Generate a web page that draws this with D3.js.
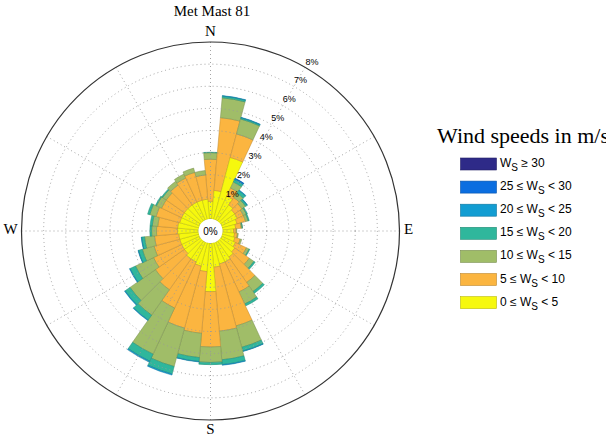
<!DOCTYPE html>
<html>
<head>
<meta charset="utf-8">
<script src="https://cdn.jsdelivr.net/npm/d3@7/dist/d3.min.js"></script>
<style>
  html, body { margin: 0; padding: 0; background: #fff; }
  svg { display: block; }
</style>
</head>
<body>
<svg id="chart" width="606" height="438"></svg>
<script>
// Wind direction sectors (degrees clockwise from north), 10° bins
const directions = [0,10,20,30,40,50,60,70,80,90,100,110,120,130,140,150,160,170,
                    180,190,200,210,220,230,240,250,260,270,280,290,300,310,320,330,340,350];

// Frequency (%) per direction for each wind speed class
const ws0to5   = [0.8,1.3,2.9,1.2,0.9,0.8,0.8,0.7,0.6,0.5,0.55,0.6,0.7,0.8,0.9,1.0,1.0,1.1,
                  2.2,1.3,1.1,1.0,1.0,0.9,0.9,0.9,0.9,0.95,0.95,0.9,0.9,0.9,0.9,0.9,0.9,0.9];
const ws5to10  = [1.9,3.3,1.1,0.4,0.4,0.4,0.3,0.4,0.25,0.12,0.13,0.25,0.55,0.8,1.4,1.5,2.9,2.9,
                  2.5,2.8,2.9,2.3,1.7,1.6,1.4,1.2,1.1,0.95,0.9,1.1,1.0,1.0,1.1,1.2,1.3,1.1];
const ws10to15 = [0.3,0.9,0.7,0.3,0.25,0.2,0.15,0.12,0.05,0.03,0.04,0.07,0.13,0.25,0.5,0.6,1.0,1.3,
                  0.7,1.1,1.8,2.3,1.4,1.4,0.9,0.55,0.45,0.22,0.25,0.3,0.25,0.2,0.2,0.2,0.2,0.2];
const ws15to20 = [0.02,0.08,0.06,0.12,0.14,0.08,0.05,0.05,0.01,0,0,0,0.04,0.07,0.1,0.1,0.18,0.22,
                  0.1,0.18,0.35,0.35,0.27,0.27,0.27,0.18,0.13,0.08,0.1,0.1,0.05,0.05,0,0,0,0];
const ws20to25 = [0,0.02,0.02,0.05,0.03,0.02,0,0,0,0,0,0,0,0,0,0,0.02,0.03,
                  0,0.02,0.05,0.05,0.03,0.03,0.03,0.02,0.02,0,0,0,0,0,0,0,0,0];
const ws25to30 = [0,0,0,0.02,0,0,0,0,0,0,0,0,0,0,0,0,0,0,
                  0,0,0,0,0,0,0,0,0,0,0,0,0,0,0,0,0,0];
const ws30up   = [0,0,0,0,0,0,0,0,0,0,0,0,0,0,0,0,0,0,
                  0,0,0,0,0,0,0,0,0,0,0,0,0,0,0,0,0,0];

// Speed classes, innermost first
const classLabels = [["0 \u2264 W","S"," < 5"],["5 \u2264 W","S"," < 10"],["10 \u2264 W","S"," < 15"],
                     ["15 \u2264 W","S"," < 20"],["20 \u2264 W","S"," < 25"],["25 \u2264 W","S"," < 30"],
                     ["W","S"," \u2265 30"]];
const classColors = ["#f6f80e","#fbb540","#a0bd68","#2fb79c","#129dd2","#0b6ee0","#2e2a88"];

// Radial rings (%)
const ringValues = [1,2,3,4,5,6,7,8];
const ringLabels = ["1%","2%","3%","4%","5%","6%","7%","8%"];
const compassLabels = ["N","E","S","W"];

const series = [ws0to5, ws5to10, ws10to15, ws15to20, ws20to25, ws25to30, ws30up];

const svg = d3.select("#chart");
const cx = 210.5, cy = 231;
const r = d3.scaleLinear().domain([0, 8]).range([12, 189]);
const toRad = d => d * Math.PI / 180;

const g = svg.append("g").attr("transform", `translate(${cx},${cy})`);

// stacked bars
const stack = directions.map((d, i) => {
  let acc = 0;
  return series.map((s, k) => {
    const lo = acc; acc += s[i];
    return { dir: d, k, lo, hi: acc };
  }).filter(e => e.hi > e.lo);
}).flat();

const arc = d3.arc()
  .innerRadius(e => r(e.lo))
  .outerRadius(e => r(e.hi))
  .startAngle(e => toRad(e.dir - 5))
  .endAngle(e => toRad(e.dir + 5));

g.append("g").selectAll("path").data(stack).join("path")
  .attr("d", arc)
  .attr("fill", e => classColors[e.k])
  .attr("stroke", e => d3.color(classColors[e.k]).darker(0.8))
  .attr("stroke-width", 0.5);

// grid: dotted rings and spokes drawn over the bars
const grid = g.append("g").attr("fill", "none").attr("stroke", "#9a9a9a")
  .attr("stroke-width", 0.9).attr("stroke-dasharray", "1,3");
grid.selectAll("circle").data(ringValues.slice(0, -1)).join("circle")
  .attr("r", d => r(d));
grid.selectAll("line").data(d3.range(0, 360, 30)).join("line")
  .attr("x1", d => r(0) * Math.sin(toRad(d))).attr("y1", d => -r(0) * Math.cos(toRad(d)))
  .attr("x2", d => r(8) * Math.sin(toRad(d))).attr("y2", d => -r(8) * Math.cos(toRad(d)));

// central hole and outer frame
g.append("circle").attr("r", r(0)).attr("fill", "#fff");
g.append("circle").attr("r", r(8)).attr("fill", "none").attr("stroke", "#333").attr("stroke-width", 1.2);

g.append("text").attr("x", 0).attr("y", 1).attr("text-anchor", "middle")
  .attr("dominant-baseline", "middle")
  .style("font", "10px 'Liberation Sans', Arial, sans-serif").text("0%");

// ring labels along the 31° bearing
g.append("g").selectAll("text").data(ringValues).join("text")
  .attr("x", (d, i) => (r(d) + 8) * Math.sin(toRad(31)))
  .attr("y", (d, i) => -(r(d) + 8) * Math.cos(toRad(31)))
  .attr("text-anchor", "middle").attr("dominant-baseline", "middle")
  .style("font", "9px 'Liberation Sans', Arial, sans-serif")
  .text((d, i) => ringLabels[i]);

// compass letters
const compassPos = [[0, -198], [198, 0], [0, 200], [-200, 0]];
g.append("g").selectAll("text").data(compassLabels).join("text")
  .attr("x", (d, i) => compassPos[i][0]).attr("y", (d, i) => compassPos[i][1])
  .attr("text-anchor", "middle").attr("dominant-baseline", "middle")
  .style("font", "15px 'Liberation Serif', 'Times New Roman', serif")
  .text(d => d);

// title
svg.append("text").attr("x", 212).attr("y", 16).attr("text-anchor", "middle")
  .style("font", "15px 'Liberation Serif', 'Times New Roman', serif").text("Met Mast 81");

// legend
const leg = svg.append("g");
leg.append("text").attr("x", 437).attr("y", 143)
  .attr("textLength", 172).attr("lengthAdjust", "spacingAndGlyphs")
  .style("font", "20px 'Liberation Serif', 'Times New Roman', serif").text("Wind speeds in m/s");
const rows = d3.range(classLabels.length).reverse();
rows.forEach((k, j) => {
  const y = 164 + j * 23.1;
  leg.append("rect").attr("x", 460.5).attr("y", y - 6).attr("width", 36).attr("height", 12)
    .attr("fill", classColors[k]).attr("stroke", d3.color(classColors[k]).darker(0.8)).attr("stroke-width", 0.6);
  const t = leg.append("text").attr("x", 500).attr("y", y + 3)
    .style("font", "12px 'Liberation Sans', Arial, sans-serif");
  t.append("tspan").text(classLabels[k][0]);
  t.append("tspan").attr("dy", 4).style("font-size", "10px").text(classLabels[k][1]);
  t.append("tspan").attr("dy", -4).text(classLabels[k][2]);
});
</script>
</body>
</html>
